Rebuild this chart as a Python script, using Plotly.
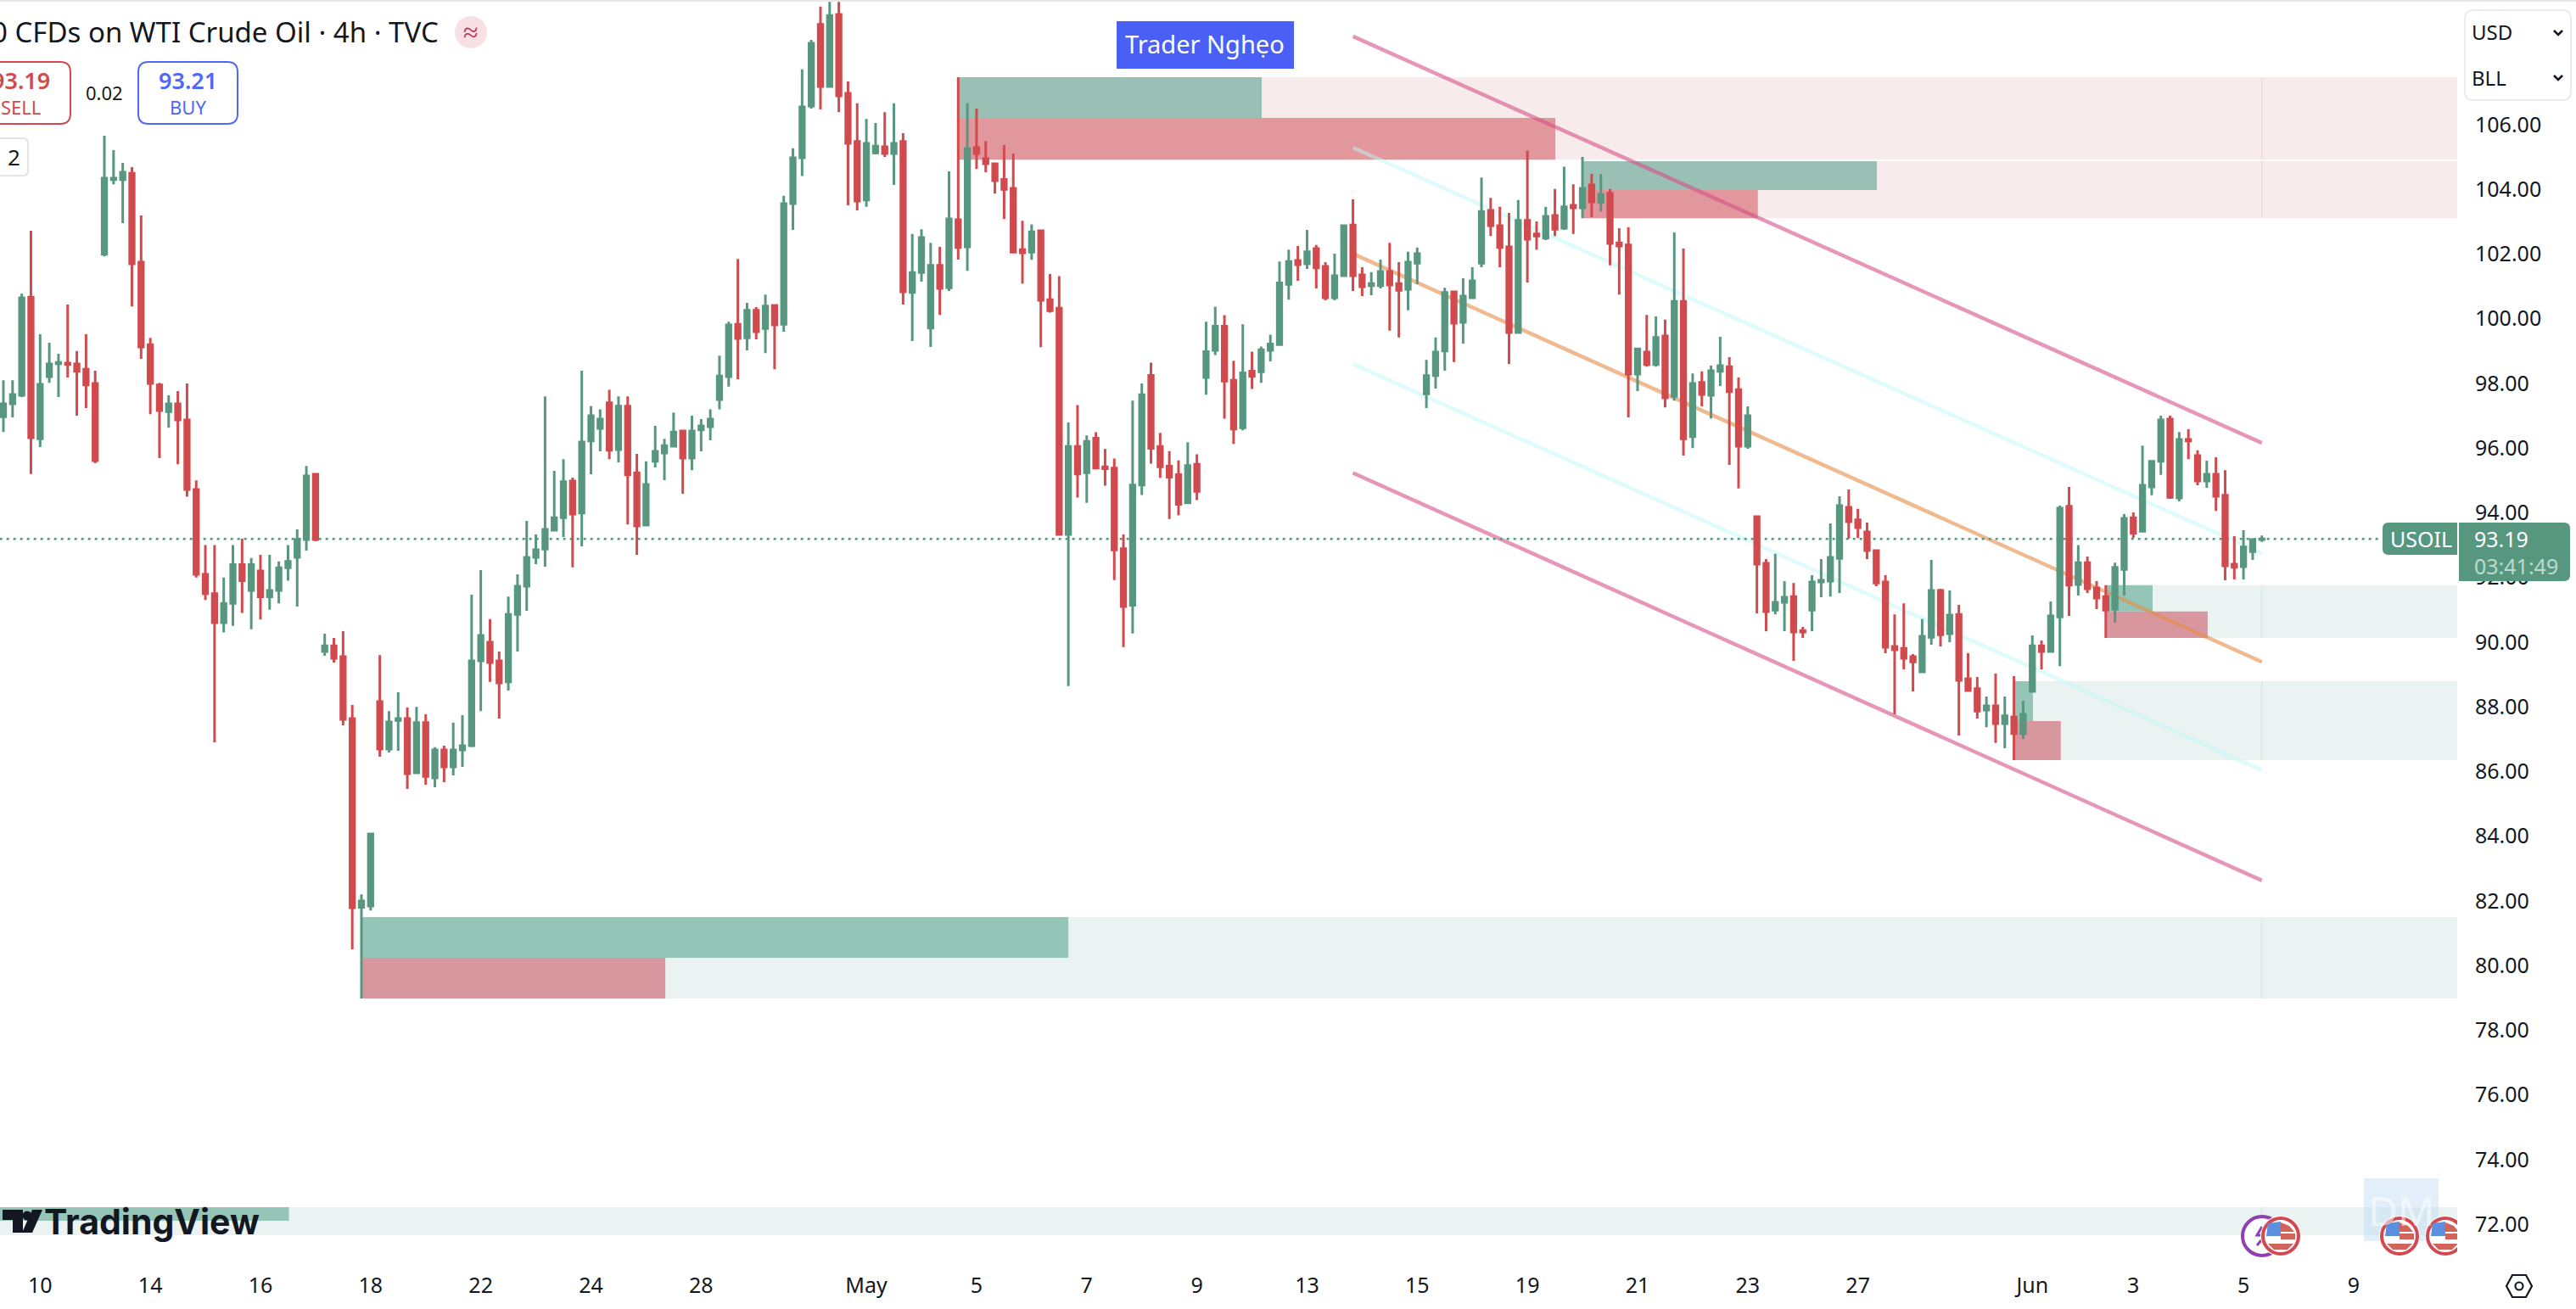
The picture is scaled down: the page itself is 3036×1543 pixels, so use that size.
import plotly.graph_objects as go

# USOIL 4h candles, one entry per bar
opens = [96.97,97.37,97.63,100.67,96.29,98.21,98.61,98.63,98.60,98.44,
 98.0,101.99,104.30,104.30,104.50,101.75,99.20,97.95,97.13,97.37,
 96.87,94.72,92.1,91.5,90.6,91.2,92.4,91.6,92.2,91.4,91.6,92.3,
 92.62,93.17,95.19,89.71,89.89,89.55,87.64,81.8,81.84,88.16,
 86.69,87.58,87.64,85.96,87.51,85.80,86.67,86.14,86.67,86.80,
 89.42,90.0,89.42,88.77,90.86,91.73,92.62,92.88,93.46,93.85,
 94.98,93.99,96.22,96.61,97.4,95.95,97.3,95.24,93.62,95.59,
 95.85,96.06,96.53,95.69,96.56,96.66,97.5,98.21,99.83,99.41,
 100.26,99.70,100.41,99.83,103.56,104.98,106.58,109.10,107.18,109.41,
 106.97,105.48,103.67,105.13,105.32,105.11,105.48,100.81,101.43,99.71,
 101.65,100.96,103.06,102.22,105.29,104.95,104.79,104.31,104.03,102.14,
 102.06,102.72,100.59,100.33,93.33,96.05,95.24,96.31,95.42,95.38,
 92.89,91.14,94.86,98.25,96.05,95.44,95.18,94.31,95.50,98.18,
 99.02,99.77,98.10,96.63,98.38,98.36,99.02,99.20,101.06,101.80,
 101.70,102.17,101.62,100.65,101.33,102.90,101.36,101.02,101.02,101.46,
 101.09,100.91,101.72,97.68,98.24,99.0,100.83,99.89,100.65,101.72,
 103.35,102.88,102.22,99.57,103.04,102.62,102.49,103.19,102.80,103.51,
 103.43,104.14,103.59,103.88,102.35,102.28,98.29,98.97,98.58,99.47,
 97.60,100.54,96.35,98.03,97.63,98.37,98.52,97.81,96.06,93.88,
 92.44,90.99,91.23,91.41,90.36,90.99,91.86,91.89,92.59,94.17,
 93.78,93.41,92.83,91.86,89.87,89.81,89.55,89.08,90.15,91.60,
 90.26,90.86,88.87,88.56,87.90,88.03,87.48,87.69,87.17,88.48,
 89.89,89.71,90.78,94.20,91.78,92.46,91.68,91.41,91.02,92.25,
 93.85,93.43,94.80,95.59,96.90,94.46,96.27,95.77,94.98,95.19,
 94.54,92.41,92.33,92.80,93.17]
highs = [98.10,98.10,100.78,102.72,99.52,99.26,98.92,100.44,99.0,99.52,
 98.39,105.66,105.21,104.82,104.69,103.19,99.41,98.02,97.63,97.76,
 98.0,95.0,93.0,93.0,92.0,93.0,93.2,92.6,92.7,92.7,92.5,93.0,
 93.49,95.45,95.19,90.26,90.13,90.34,88.06,82.2,84.1,89.60,
 87.87,88.45,87.98,88.0,87.77,86.75,86.80,87.51,87.74,91.47,
 92.23,90.71,89.71,91.41,92.10,93.75,93.33,97.6,95.30,95.66,
 95.09,98.39,97.3,97.2,97.8,97.6,97.6,95.82,95.59,96.69,
 96.29,97.1,96.56,97.0,96.9,97.2,98.86,99.91,101.85,100.49,
 100.36,100.75,100.41,103.80,105.27,107.71,108.62,109.65,109.80,109.80,
 107.34,106.66,106.18,106.05,106.39,106.66,105.74,102.62,102.77,102.35,
 102.22,104.56,107.47,106.66,106.5,105.49,104.79,105.37,105.11,103.03,
 102.92,102.72,101.38,101.32,96.79,97.33,96.39,96.49,95.97,95.68,
 93.33,97.47,98.0,98.64,96.47,95.91,95.62,96.18,95.81,99.91,
 100.37,100.11,98.70,99.83,98.98,99.14,99.51,101.77,102.14,102.25,
 102.75,102.28,101.75,102.01,102.90,103.69,101.59,101.44,101.83,102.35,
 101.75,102.07,102.20,98.73,99.42,100.96,100.86,101.25,101.59,104.37,
 103.74,103.46,103.27,103.67,105.2,103.01,103.46,104.01,104.7,104.16,
 105.0,104.48,104.48,104.01,102.80,102.83,99.10,100.12,100.07,99.97,
 102.67,102.17,98.31,98.37,98.55,99.44,98.81,98.18,97.29,93.91,
 92.57,92.73,91.89,91.83,90.47,92.07,92.57,93.67,94.51,94.72,
 94.12,93.70,92.86,92.07,90.86,91.20,89.63,90.71,92.54,91.65,
 91.60,91.15,89.66,88.92,88.32,89.03,88.32,88.95,88.19,90.21,
 90.05,91.26,94.22,94.80,93.0,92.65,91.89,91.76,92.46,93.96,
 94.01,96.08,95.61,97.0,97.0,96.50,96.58,95.93,95.61,95.72,
 95.32,93.28,93.46,93.20,93.30]
lows = [96.50,96.95,97.58,95.2,96.03,98.02,97.58,98.18,97.0,97.24,
 95.53,101.93,104.16,102.96,100.38,98.76,97.05,95.69,96.63,95.5,
 94.5,92.0,91.3,86.9,90.3,90.5,90.9,90.4,90.7,91.0,91.2,91.9,
 91.10,92.83,93.12,89.58,89.37,87.43,80.50,78.98,81.7,86.46,
 86.59,86.64,85.46,85.93,85.59,85.51,85.67,85.88,86.14,86.75,
 87.87,88.77,87.64,88.50,89.71,90.97,92.41,92.33,93.46,93.25,
 92.31,92.96,95.19,95.90,95.66,95.56,93.64,92.70,93.62,95.40,
 95.01,96.03,94.59,95.32,95.90,96.24,97.2,97.9,98.13,99.02,
 99.36,98.94,98.44,99.60,102.75,104.41,106.50,106.47,107.18,106.39,
 103.51,103.35,103.46,105.08,105.0,104.14,100.44,99.31,101.15,99.13,
 100.12,100.86,101.83,101.48,104.63,104.53,103.87,103.08,102.06,101.09,
 101.82,99.12,100.19,93.31,88.64,94.47,94.31,95.38,94.84,91.92,
 89.85,90.27,94.55,95.52,95.08,93.81,93.92,94.31,94.39,97.65,
 98.88,96.91,96.13,96.55,97.83,98.02,98.68,99.20,100.59,101.17,
 101.54,100.94,100.57,100.57,101.33,100.86,100.70,100.73,100.94,99.63,
 99.42,100.26,101.07,97.24,97.84,98.39,98.66,99.23,100.62,101.59,
 102.56,101.59,98.60,99.57,101.12,102.14,102.43,102.56,102.75,102.62,
 103.11,103.14,103.32,101.65,100.75,96.95,97.76,98.52,98.52,97.26,
 97.47,95.77,96.0,97.29,96.92,97.92,95.48,94.75,95.98,90.89,
 90.34,90.86,90.34,89.42,90.13,90.34,91.39,91.41,91.52,93.20,
 93.22,92.57,91.73,89.66,87.77,89.16,88.48,89.08,89.92,89.87,
 90.0,87.11,88.50,87.64,87.37,86.88,86.72,86.35,87.01,88.45,
 89.16,89.71,89.26,90.81,91.44,91.52,91.02,90.13,90.60,91.44,
 93.22,93.43,94.54,95.17,94.43,94.35,95.66,94.85,94.77,94.06,
 91.91,91.94,91.94,92.54,93.10]
closes = [97.37,97.66,100.65,96.32,97.97,98.60,98.65,98.59,98.37,97.95,
 95.61,104.35,104.35,104.53,101.70,99.13,98.0,97.16,97.37,96.87,
 94.72,92.1,91.5,90.6,91.2,92.4,91.9,92.4,91.4,91.6,92.3,92.5,
 93.17,95.14,93.17,89.89,89.50,87.61,81.79,82.0,84.07,86.69,
 87.53,87.64,85.93,87.51,85.85,86.67,86.14,86.67,86.80,89.42,
 90.21,89.37,88.74,90.86,91.73,92.62,92.86,93.49,93.85,94.96,
 93.96,96.19,97.0,96.9,95.93,97.3,95.17,93.59,94.88,95.90,
 96.08,96.50,95.69,96.53,96.69,96.9,98.23,99.81,99.39,100.26,
 99.60,100.39,99.81,103.56,104.98,106.55,108.52,107.18,109.38,106.89,
 105.42,103.64,105.42,105.34,105.11,105.42,100.83,101.43,102.51,101.65,
 100.94,103.09,102.20,105.26,105.11,104.79,104.27,104.0,102.06,102.04,
 102.69,100.57,100.25,93.33,96.05,95.20,96.21,95.38,95.36,92.85,
 91.10,94.86,97.65,95.99,95.42,95.10,94.26,95.46,94.66,98.98,
 99.77,98.07,96.59,98.33,98.22,99.04,99.22,101.11,101.77,101.67,
 102.07,101.57,100.65,101.33,102.88,101.33,100.99,101.09,101.46,101.04,
 100.88,101.75,102.01,98.24,98.97,100.81,99.86,100.70,101.17,103.32,
 102.88,102.20,99.57,103.04,102.46,102.56,103.17,102.77,103.46,103.43,
 104.03,103.61,103.85,102.33,102.25,98.29,99.07,98.58,99.42,97.55,
 100.54,96.29,98.0,97.66,98.39,98.55,97.74,96.06,97.0,92.41,
 90.94,91.23,91.39,90.31,90.31,91.86,91.91,92.62,94.22,93.72,
 93.54,92.83,91.83,89.84,89.76,89.50,89.39,90.18,91.60,90.23,
 90.84,88.82,88.50,87.87,88.03,87.48,87.72,87.17,87.77,89.89,
 89.71,90.81,94.14,91.76,92.46,91.65,91.36,90.99,92.31,93.83,
 93.36,94.85,95.59,96.87,94.48,96.27,96.22,94.98,95.19,94.51,
 92.36,92.31,92.94,93.17,93.19]

# Axis labels: bar index of each date tick
date_ticks = [4,16,28,40,52,64,76,94,106,118,130,142,154,166,178,190,202,221,232,244,256]
date_labels = ["10","14","16","18","22","24","28","May","5","7","9","13","15","19","21","23","27","Jun","3","5","9"]
price_ticks = list(range(72, 108, 2))

last_price = 93.19

# Supply and demand zones: (first bar, last bar, price top, price bottom, fill)
PINK = "#F7EBEB"; MINT = "#EAF3F1"
zones = [
 (104, 267.3, 107.47, 104.92, PINK),
 (104, 137.06, 107.47, 106.21, "#9ABFB5"),
 (104, 169.04, 106.21, 104.92, "#E1979C"),
 (172, 267.3, 104.87, 103.11, PINK),
 (172, 204.07, 104.87, 103.98, "#9ABFB5"),
 (172, 191.1, 103.98, 103.11, "#E1979C"),
 (229, 267.3, 91.76, 90.13, MINT),
 (229, 234.1, 91.76, 90.95, "#95C5B7"),
 (229, 240.1, 90.95, 90.13, "#D8979E"),
 (219, 267.3, 88.79, 86.35, MINT),
 (219, 221.07, 88.79, 87.56, "#95C5B7"),
 (219, 224.1, 87.56, 86.35, "#D8979E"),
 (39, 267.3, 81.50, 78.98, MINT),
 (39, 116, 81.50, 80.24, "#95C5B7"),
 (39, 72.1, 80.24, 78.98, "#D8979E"),
 (-0.4, 267.3, 72.53, 71.66, MINT),
 (-0.4, 31.1, 72.53, 72.11, "#95C5B7"),
]

# Regression channel: price at the start and at the end of the line
channel_start, channel_end = 147, 246
channel = [
 (108.73, 96.16, "rgba(214,80,135,0.6)"),
 (105.29, 92.75, "rgba(190,250,248,0.5)"),
 (102.01, 89.39, "rgba(230,140,70,0.6)"),
 (98.60, 86.04, "rgba(190,250,248,0.5)"),
 (95.23, 82.63, "rgba(214,80,135,0.6)"),
]

W, H = 3036, 1543
PLOT_W, PLOT_H = 2896, 1490
GREEN, RED, BLUE = "#58977F", "#D04A4E", "#4F68F5"
FONT = "Noto Sans"

def px(x):
    return x / PLOT_W

def py(y):
    return 1 - y / PLOT_H

def rect(x0, y0, x1, y1, fill=None, line=None, lw=0):
    return dict(type="rect", xref="paper", yref="paper", x0=px(x0), x1=px(x1), y0=py(y0), y1=py(y1),
                fillcolor=fill or "rgba(0,0,0,0)", line=dict(color=line or "rgba(0,0,0,0)", width=lw), layer="above")

def path(points, fill=None, line=None, lw=0, close=True):
    d = "M" + " L".join(f"{px(a):.5f},{py(b):.5f}" for a, b in points) + (" Z" if close else "")
    return dict(type="path", xref="paper", yref="paper", path=d, fillcolor=fill or "rgba(0,0,0,0)",
                line=dict(color=line or "rgba(0,0,0,0)", width=lw), layer="above")

def rounded(x0, y0, x1, y1, r, fill=None, line=None, lw=0, corners="tl tr br bl"):
    c = corners.split()
    def P(a, b): return f"{px(a):.5f},{py(b):.5f}"
    d = "M" + P(x0 + (r if "tl" in c else 0), y0)
    d += " L" + P(x1 - (r if "tr" in c else 0), y0)
    if "tr" in c: d += " Q" + P(x1, y0) + " " + P(x1, y0 + r)
    d += " L" + P(x1, y1 - (r if "br" in c else 0))
    if "br" in c: d += " Q" + P(x1, y1) + " " + P(x1 - r, y1)
    d += " L" + P(x0 + (r if "bl" in c else 0), y1)
    if "bl" in c: d += " Q" + P(x0, y1) + " " + P(x0, y1 - r)
    d += " L" + P(x0, y0 + (r if "tl" in c else 0))
    if "tl" in c: d += " Q" + P(x0, y0) + " " + P(x0 + r, y0)
    d += " Z"
    return dict(type="path", xref="paper", yref="paper", path=d, fillcolor=fill or "rgba(0,0,0,0)",
                line=dict(color=line or "rgba(0,0,0,0)", width=lw), layer="above")

def circle(cx, cy, r, fill=None, line=None, lw=0):
    return dict(type="circle", xref="paper", yref="paper", x0=px(cx - r), x1=px(cx + r), y0=py(cy - r), y1=py(cy + r),
                fillcolor=fill or "rgba(0,0,0,0)", line=dict(color=line or "rgba(0,0,0,0)", width=lw), layer="above")

def text(x, y, s, size, color="#131722", anchor="left", family=FONT, weight=None):
    font = dict(size=size, color=color, family=family)
    if weight:
        font["weight"] = weight
    return dict(x=px(x), y=py(y), xref="paper", yref="paper", text=s, showarrow=False, xanchor=anchor, yanchor="middle",
                font=font, align=anchor, borderpad=0, borderwidth=0)

def flag(cx, cy):
    r = 21
    return [
        circle(cx, cy, r + 3, fill="#FFFFFF"),
        circle(cx, cy, r, fill="#FFFFFF", line="#D24A4F", lw=4),
        path([(cx - 15, cy - 15), (cx, cy - 17), (cx, cy), (cx - 17, cy)], fill="#5B8FE0"),
        path([(cx, cy - 16), (cx + 10, cy - 12), (cx + 16, cy - 5), (cx, cy - 5)], fill="#D0635A"),
        path([(cx, cy - 3), (cx + 17, cy - 3), (cx + 17, cy + 4), (cx, cy + 4)], fill="#D0635A"),
        path([(cx - 15, cy + 9), (cx + 15, cy + 9), (cx + 8, cy + 16), (cx - 8, cy + 16)], fill="#D0635A"),
    ]

fig = go.Figure(go.Candlestick(
    x=list(range(len(opens))), open=opens, high=highs, low=lows, close=closes,
    whiskerwidth=0,
    increasing=dict(line=dict(color=GREEN, width=3), fillcolor=GREEN),
    decreasing=dict(line=dict(color=RED, width=3), fillcolor=RED),
    hoverinfo="skip", showlegend=False,
))

shapes = []
for x0, x1, top, bottom, fill in zones:
    shapes.append(dict(type="rect", xref="x", yref="y", x0=x0, x1=x1, y0=bottom, y1=top,
                       fillcolor=fill, line=dict(width=0), layer="below"))

# Faint marker of the current bar inside each zone
for top, bottom, col in [(107.47, 104.92, "#F1DEDF"), (104.87, 103.11, "#F1DEDF"), (91.76, 90.13, "#DCEDE9"),
                         (88.79, 86.35, "#DCEDE9"), (81.50, 78.98, "#DCEDE9"), (72.53, 71.66, "#DCEDE9")]:
    shapes.append(dict(type="line", xref="x", yref="y", x0=246, x1=246, y0=bottom, y1=top,
                       line=dict(color=col, width=2), layer="below"))

for start, end, col in channel:
    shapes.append(dict(type="line", xref="x", yref="y", x0=channel_start, x1=channel_end, y0=start, y1=end,
                       line=dict(color=col, width=4.5), layer="below"))

shapes.append(dict(type="line", xref="x", yref="y", x0=-0.4, x1=259.1, y0=last_price, y1=last_price,
                   line=dict(color=GREEN, width=2.5, dash="3px,5px"), layer="below"))

ann = []
# Window strip, header and trade buttons
shapes.append(rect(0, 0, W, 2, fill="#E8E8E8"))
ann.append(text(517, 38, "0 CFDs on WTI Crude Oil · 4h · TVC", 33, anchor="right"))
shapes.append(circle(555, 38, 19, fill="#F8E1E5"))
ann.append(text(555, 37, "≈", 32, color="#C2324E", anchor="center"))
shapes.append(rounded(-40, 73, 83, 146, 12, fill="#FFFFFF", line=RED, lw=2))
ann.append(text(24, 95, "93.19", 27, color=RED, anchor="center", weight=600))
ann.append(text(24, 126, "SELL", 22, color=RED, anchor="center"))
ann.append(text(123, 109, "0.02", 22, anchor="center"))
shapes.append(rounded(163, 73, 280, 146, 12, fill="#FFFFFF", line=BLUE, lw=2))
ann.append(text(221, 95, "93.21", 27, color=BLUE, anchor="center", weight=600))
ann.append(text(221, 126, "BUY", 22, color=BLUE, anchor="center"))
shapes.append(rounded(-20, 163, 33, 207, 6, fill="#FFFFFF", line="#E4E4E4", lw=2))
ann.append(text(16, 185, "2", 26, anchor="center"))

# Author tag
shapes.append(rect(1316, 25, 1525, 81, fill="#4A5FF5"))
ann.append(text(1420, 51, "Trader Nghẹo", 29, color="#FFFFFF", anchor="center"))

# Currency and unit selector
shapes.append(rounded(2905, 12, 3030, 118, 10, fill="#FFFFFF", line="#EBEBEB", lw=2))
ann.append(text(2913, 38, "USD", 24))
ann.append(text(2913, 91, "BLL", 24))
for yc in (39, 92):
    shapes.append(path([(3010, yc - 3), (3015, yc + 2), (3020, yc - 3)], line="#131722", lw=2.5, close=False))

# Last price badges
shapes.append(rounded(2808, 616, 2896, 654, 7, fill=GREEN, corners="tl bl"))
ann.append(text(2853, 635, "USOIL", 25, color="#FFFFFF", anchor="center"))
shapes.append(rounded(2898, 616, 3029, 685, 7, fill=GREEN, corners="tr br"))
ann.append(text(2916, 635, "93.19", 25, color="#FFFFFF"))
ann.append(text(2916, 667, "03:41:49", 25, color="#BBDAD0"))

# Watermarks and event icons along the bottom
ann.append(text(52, 1440, "TradingView", 41, color="#131722", family="Inter", weight=700))
shapes.append(path([(3, 1426), (27, 1426), (27, 1453), (15, 1453), (15, 1438), (3, 1438)], fill="#131722"))
shapes.append(circle(32, 1433, 5.5, fill="#131722"))
shapes.append(path([(38, 1426), (50, 1426), (38, 1453), (26, 1453)], fill="#131722"))
shapes.append(rect(2786, 1389, 2874, 1463, fill="rgba(190,220,245,0.45)"))
ann.append(text(2830, 1426, "DM", 48, color="rgba(255,255,255,0.55)", anchor="center"))
shapes.append(circle(2666, 1457, 23, fill="#FFFFFF", line="#8E3FB0", lw=4))
shapes.append(path([(2666, 1446), (2660, 1456), (2670, 1456), (2660, 1468)], line="#8E3FB0", lw=3, close=False))
shapes += flag(2688, 1457) + flag(2828, 1457) + flag(2882, 1457)
shapes.append(rect(2896, 1425, 2916, 1490, fill="#FFFFFF"))

# Settings hexagon
hx, hy = 2969, 1516
shapes.append(path([(hx - 15, hy), (hx - 8, hy - 13), (hx + 8, hy - 13), (hx + 15, hy), (hx + 8, hy + 13), (hx - 8, hy + 13)],
                   line="#131722", lw=2.2))
shapes.append(circle(hx, hy, 4.5, line="#131722", lw=2.2))

fig.update_layout(
    width=W, height=H,
    margin=dict(l=0, r=W - PLOT_W, t=0, b=H - PLOT_H, pad=0),
    paper_bgcolor="#FFFFFF", plot_bgcolor="#FFFFFF",
    boxgap=0.3, boxgroupgap=0.3,
    shapes=shapes, annotations=ann,
    font=dict(family=FONT, size=25, color="#131722"),
    xaxis=dict(range=[-0.37, 267.28], rangeslider=dict(visible=False), showgrid=False, zeroline=False, showline=False,
               tickmode="array", tickvals=date_ticks, ticktext=date_labels, ticks="", ticklabelstandoff=8,
               tickfont=dict(size=25, family=FONT, color="#131722")),
    yaxis=dict(range=[70.77, 109.856], side="right", showgrid=False, zeroline=False, showline=False,
               tickmode="array", tickvals=price_ticks, ticktext=[f"{v:.2f}" for v in price_ticks], ticks="",
               ticklabelstandoff=20, tickfont=dict(size=25, family=FONT, color="#131722")),
)

fig.write_html("out.html", config=dict(displayModeBar=False))
